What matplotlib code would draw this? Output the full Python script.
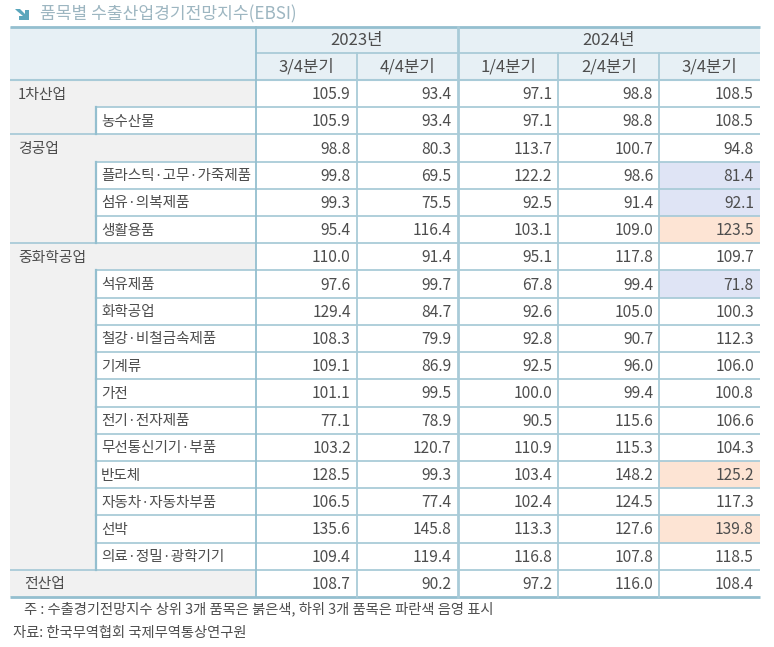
import matplotlib
matplotlib.use("Agg")
import matplotlib.pyplot as plt
from matplotlib.patches import Rectangle, Polygon

plt.rcParams['font.family'] = ['Noto Sans CJK KR', 'DejaVu Sans']

# ---------------- data ----------------
title = "품목별 수출산업경기전망지수(EBSI)"
years = ["2023년", "2024년"]
year_spans = [2, 3]
quarters = ["3/4분기", "4/4분기", "1/4분기", "2/4분기", "3/4분기"]

row_labels = ["1차산업", "농수산물", "경공업", "플라스틱·고무·가죽제품", "섬유·의복제품", "생활용품",
              "중화학공업", "석유제품", "화학공업", "철강·비철금속제품", "기계류", "가전",
              "전기·전자제품", "무선통신기기·부품", "반도체", "자동차·자동차부품", "선박",
              "의료·정밀·광학기기", "전산업"]
# 0 = sector, 1 = item, 2 = total
row_levels = [0, 1, 0, 1, 1, 1, 0, 1, 1, 1, 1, 1, 1, 1, 1, 1, 1, 1, 2]

q3_2023 = [105.9, 105.9, 98.8, 99.8, 99.3, 95.4, 110.0, 97.6, 129.4, 108.3, 109.1, 101.1, 77.1, 103.2, 128.5, 106.5, 135.6, 109.4, 108.7]
q4_2023 = [93.4, 93.4, 80.3, 69.5, 75.5, 116.4, 91.4, 99.7, 84.7, 79.9, 86.9, 99.5, 78.9, 120.7, 99.3, 77.4, 145.8, 119.4, 90.2]
q1_2024 = [97.1, 97.1, 113.7, 122.2, 92.5, 103.1, 95.1, 67.8, 92.6, 92.8, 92.5, 100.0, 90.5, 110.9, 103.4, 102.4, 113.3, 116.8, 97.2]
q2_2024 = [98.8, 98.8, 100.7, 98.6, 91.4, 109.0, 117.8, 99.4, 105.0, 90.7, 96.0, 99.4, 115.6, 115.3, 148.2, 124.5, 127.6, 107.8, 116.0]
q3_2024 = [108.5, 108.5, 94.8, 81.4, 92.1, 123.5, 109.7, 71.8, 100.3, 112.3, 106.0, 100.8, 106.6, 104.3, 125.2, 117.3, 139.8, 118.5, 108.4]
columns = [q3_2023, q4_2023, q1_2024, q2_2024, q3_2024]

note = "주 : 수출경기전망지수 상위 3개 품목은 붉은색, 하위 3개 품목은 파란색 음영 표시"
source = "자료: 한국무역협회 국제무역통상연구원"

# ---------------- layout ----------------
W, H = 774, 647
fig = plt.figure(figsize=(W / 100, H / 100), dpi=100)
ax = fig.add_axes([0, 0, 1, 1])
ax.set_xlim(0, W)
ax.set_ylim(H, 0)
ax.axis('off')

TXT = '#4d4d4d'
LINE = '#a9cbd8'
LINE_D = '#94bfcf'
HEAD_BG = '#e7f0f5'
GRAY_BG = '#f1f1f1'
HI_RED = '#fde4d4'
HI_BLUE = '#dfe4f5'

x_left, x_sub, x_data, x_right = 10, 96, 256, 760
col_w = (x_right - x_data) / len(quarters)
col_x = [x_data + i * col_w for i in range(len(quarters) + 1)]
y_top, y_mid, y_data = 27, 53, 80
n = len(row_labels)
row_h = (597 - y_data) / n
row_y = [y_data + i * row_h for i in range(n + 1)]

# title
arrow = Polygon([[15, 9], [20, 9], [25, 14], [25, 10], [29, 10], [29, 20], [19, 20],
                 [19, 16], [23, 16], [17, 11]], closed=True, color='#5aa6bc', lw=0)
ax.add_patch(arrow)
ax.text(40, 14, title, fontsize=12.3, color='#9db6c1', va='center', ha='left')

# header
ax.add_patch(Rectangle((x_left, y_top), x_right - x_left, y_data - y_top, color=HEAD_BG, lw=0))
ci = 0
for yr, sp in zip(years, year_spans):
    xa, xb = col_x[ci], col_x[ci + sp]
    ax.text((xa + xb) / 2, (y_top + y_mid) / 2 + 1, yr, fontsize=12, color=TXT, ha='center', va='center')
    ci += sp
for i, q in enumerate(quarters):
    ax.text((col_x[i] + col_x[i + 1]) / 2, (y_mid + y_data) / 2 + 1, q, fontsize=12, color=TXT,
            ha='center', va='center')

# highlight: top 3 / bottom 3 items in the latest quarter
item_idx = [i for i, lv in enumerate(row_levels) if lv == 1]
order = sorted(item_idx, key=lambda i: q3_2024[i])
low3, high3 = set(order[:3]), set(order[-3:])

for r, (lab, lv) in enumerate(zip(row_labels, row_levels)):
    y0, y1 = row_y[r], row_y[r + 1]
    yc = (y0 + y1) / 2 + 1
    if lv == 1:
        ax.add_patch(Rectangle((x_left, y0), x_sub - x_left, row_h, color=GRAY_BG, lw=0))
        ax.text(x_sub + 5, yc, lab, fontsize=10.5, color=TXT, ha='left', va='center')
    else:
        ax.add_patch(Rectangle((x_left, y0), x_data - x_left, row_h, color=GRAY_BG, lw=0))
        ax.text(x_left + (14 if lv == 2 else 8), yc, lab, fontsize=10.7, color=TXT, ha='left', va='center')
    for c, col in enumerate(columns):
        if c == len(columns) - 1 and r in high3:
            ax.add_patch(Rectangle((col_x[c], y0), col_w, row_h, color=HI_RED, lw=0))
        elif c == len(columns) - 1 and r in low3:
            ax.add_patch(Rectangle((col_x[c], y0), col_w, row_h, color=HI_BLUE, lw=0))
        ax.text(col_x[c + 1] - 6, yc, f"{col[r]:.1f}", fontsize=11.2, color=TXT, ha='right', va='center')

# grid lines
for r in range(1, n):
    xs = x_sub if row_levels[r] == 1 else x_left
    ax.plot([xs, x_right], [row_y[r], row_y[r]], color=LINE, lw=1.3, solid_capstyle='butt')
ax.plot([x_left, x_right], [y_data, y_data], color=LINE, lw=1.5, solid_capstyle='butt')
ax.plot([x_data, x_right], [y_mid, y_mid], color=LINE, lw=1.3, solid_capstyle='butt')
ax.plot([x_left, x_right], [y_top, y_top], color=LINE_D, lw=2, solid_capstyle='butt')
ax.plot([x_left, x_right], [row_y[-1], row_y[-1]], color=LINE_D, lw=2, solid_capstyle='butt')

# vertical lines
ax.plot([x_data, x_data], [y_top, row_y[-1]], color=LINE_D, lw=1.3)
ci = 0
for sp in year_spans[:-1]:
    ci += sp
    ax.plot([col_x[ci], col_x[ci]], [y_top, row_y[-1]], color=LINE, lw=2)
for i in range(1, len(quarters)):
    if i != year_spans[0]:
        ax.plot([col_x[i], col_x[i]], [y_mid, row_y[-1]], color=LINE, lw=1.3)
# item label separators
for r, lv in enumerate(row_levels):
    if lv == 1:
        ax.plot([x_sub, x_sub], [row_y[r], row_y[r + 1]], color=LINE_D, lw=1.6)

# notes
ax.text(24, 609, note, fontsize=10.3, color=TXT, ha='left', va='center')
ax.text(13, 633, source, fontsize=10.3, color=TXT, ha='left', va='center')

fig.savefig("out.png", dpi=100)
